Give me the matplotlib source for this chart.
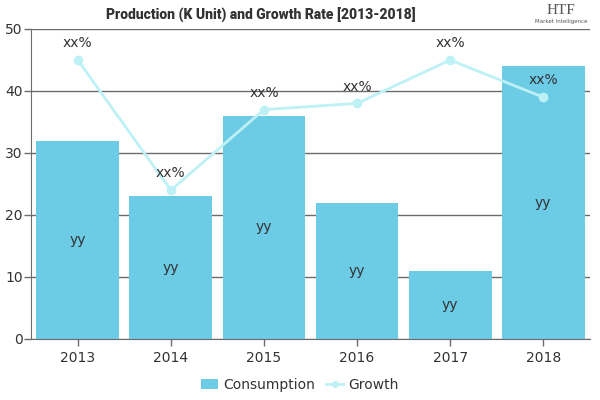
import matplotlib
matplotlib.use("Agg")
from matplotlib import pyplot as plt
from matplotlib.lines import Line2D
from matplotlib.patches import Patch
import numpy as np

years = ['2013', '2014', '2015', '2016', '2017', '2018']
consumption = [32, 23, 36, 22, 11, 44]
growth = [45, 24, 37, 38, 45, 39]
bar_labels = ['yy'] * 6
growth_labels = ['xx%'] * 6

BAR_COLOR = '#6ccbe5'
LINE_COLOR = '#bdf1f5'
TEXT_COLOR = '#333333'
GRID_COLOR = '#6b6b6b'

plt.rcParams['font.family'] = ['DejaVu Sans']

fig = plt.figure(figsize=(6, 4), dpi=100)
ax = fig.add_axes([0.052, 0.1525, 0.931, 0.775])

x = np.arange(len(years))
ax.bar(x, consumption, width=0.89, color=BAR_COLOR, zorder=2)
ax.plot(x, growth, color=LINE_COLOR, linewidth=2, marker='o', markersize=6, zorder=3)

for xi, v, lab in zip(x, consumption, bar_labels):
    ax.text(xi, v / 2, lab, ha='center', va='center', fontsize=10, color=TEXT_COLOR, zorder=4)
for xi, v, lab in zip(x, growth, growth_labels):
    ax.annotate(lab, (xi, v), xytext=(0, 7), textcoords='offset points',
                ha='center', va='bottom', fontsize=10, color=TEXT_COLOR, zorder=4)

ax.set_xlim(-0.5, len(years) - 0.5)
ax.set_ylim(0, 50)
ax.set_yticks([0, 10, 20, 30, 40, 50])
ax.set_xticks(x)
ax.set_xticklabels(years)
ax.yaxis.grid(True, color=GRID_COLOR, linewidth=1, zorder=0)
ax.set_axisbelow(True)
ax.tick_params(axis='both', colors=GRID_COLOR, labelcolor=TEXT_COLOR, labelsize=10, length=5, width=1)
ax.tick_params(axis='y', pad=1)
for s in ['top', 'right']:
    ax.spines[s].set_visible(False)
ax.spines['left'].set_color(GRID_COLOR)
ax.spines['bottom'].set_color(GRID_COLOR)

fig.text(0.435, 0.963, 'Production (K Unit) and Growth Rate [2013-2018]', ha='center', va='center',
         fontsize=10, fontweight='black', color=TEXT_COLOR, family=['Roboto', 'DejaVu Sans'])

# logo text
fig.text(0.935, 0.975, 'HTF', ha='center', va='center', fontsize=11, color='#555555',
         family=['Liberation Serif', 'DejaVu Serif'])
fig.text(0.935, 0.945, 'Market Intelligence', ha='center', va='center', fontsize=4, color='#555555')

handles = [Patch(facecolor=BAR_COLOR, edgecolor='none'),
           Line2D([0], [0], color=LINE_COLOR, linewidth=2, marker='o', markersize=4)]
fig.legend(handles, ['Consumption', 'Growth'], loc='center', bbox_to_anchor=(0.5, 0.038), ncol=2,
           frameon=False, fontsize=10, handlelength=1.2, handletextpad=0.4, columnspacing=0.8,
           labelcolor=TEXT_COLOR)

fig.savefig('out.png', dpi=100)
